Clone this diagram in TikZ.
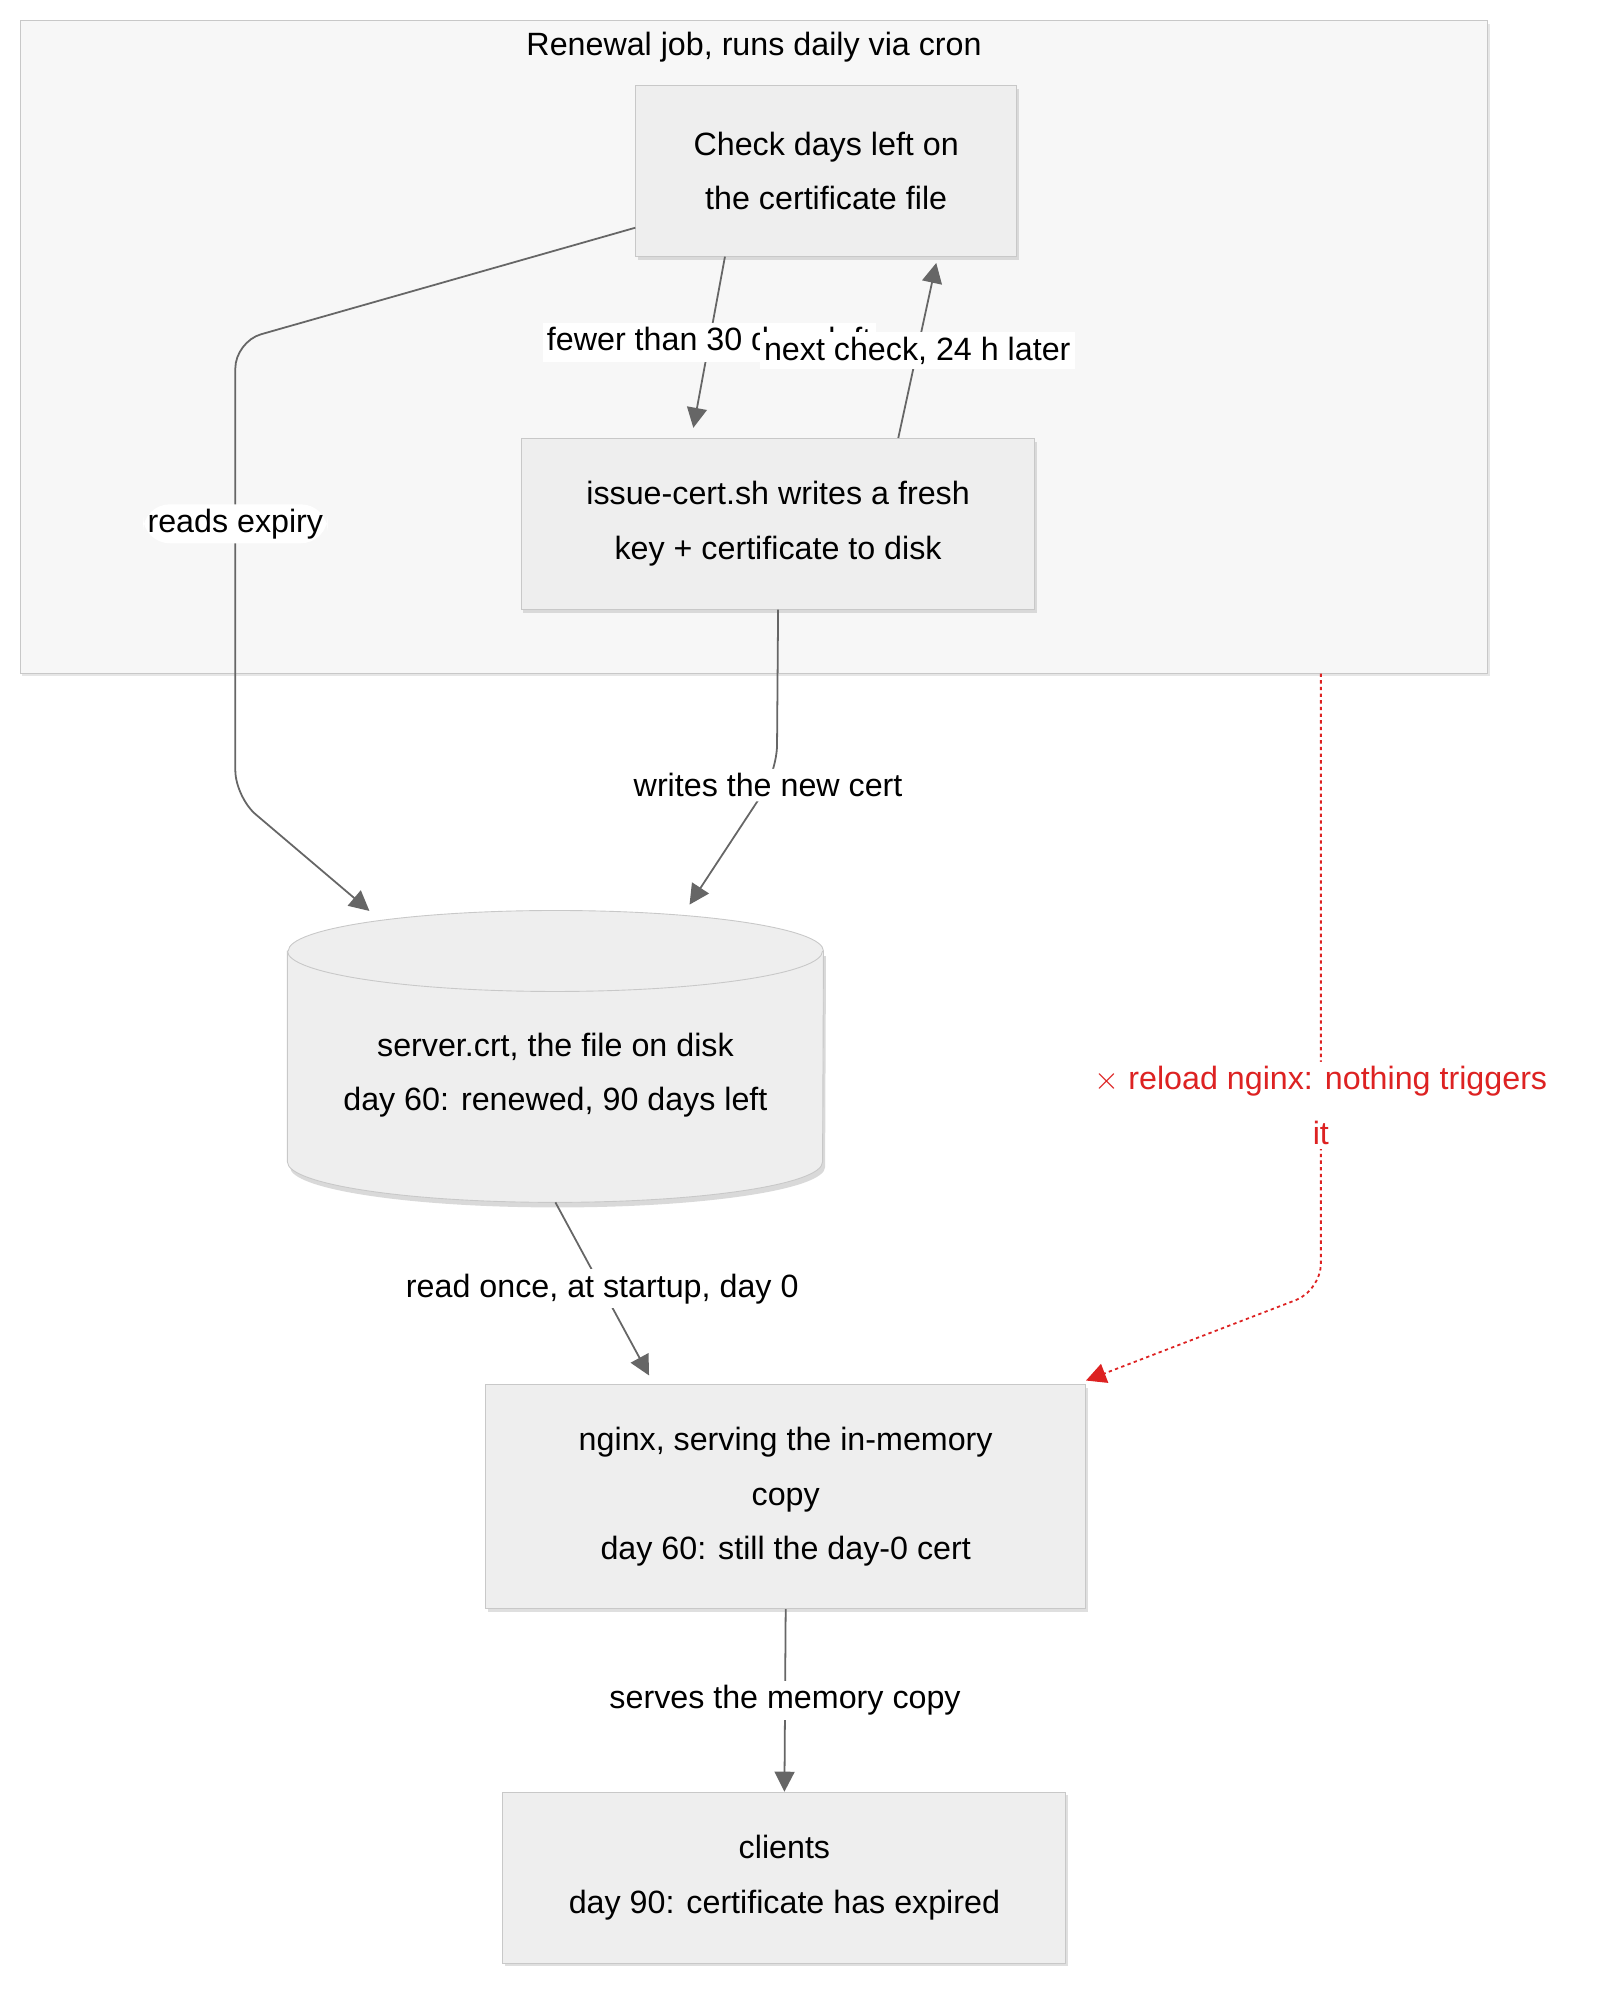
\documentclass[tikz,border=0pt]{standalone}
\usepackage{fontspec}
\setmainfont{Liberation Sans}
\usetikzlibrary{positioning,calc,arrows.meta,shadows}
\definecolor{boxfill}{HTML}{EEEEEE}
\definecolor{boxline}{HTML}{C8C8C8}
\definecolor{edgegray}{HTML}{666666}
\definecolor{alarm}{HTML}{DD2222}
\begin{document}
\begin{tikzpicture}[x=0.2mm,y=-0.2mm,font=\fontsize{14.5}{24.5}\selectfont]
		\tikzstyle{stage}=[draw=boxline, fill=boxfill, align=center, inner sep=0, drop shadow={shadow xshift=1pt,shadow yshift=-1.5pt,opacity=0.25}];
		\tikzstyle{lbl}=[fill=white, align=center, inner sep=2pt];
		\tikzstyle{flow}=[draw=edgegray, thick, -{Triangle[width=9pt,length=9pt]}];
		\tikzstyle{miss}=[draw=alarm, thick, dash pattern=on 1.5pt off 1.5pt, -{Triangle[width=9pt,length=9pt]}];

		\useasboundingbox (0,0) rectangle (1275,1580);

		% renewal group
		\node[draw=boxline, fill=white!97!black, minimum width=1160*0.2mm, minimum height=516*0.2mm, drop shadow={shadow xshift=1pt,shadow yshift=-1.5pt,opacity=0.2}] (grp) at (596,274) {};
		\node (grp_t) at (596,37) {Renewal job, runs daily via cron};

		\node[stage, minimum width=301*0.2mm, minimum height=135*0.2mm] (check) at (653,135) {Check days left on\\the certificate file};
		\node[stage, minimum width=406*0.2mm, minimum height=135*0.2mm] (issue) at (615,414) {issue-cert.sh writes a fresh\\key + certificate to disk};

		% cylinder for the file on disk
		\node[minimum width=423*0.2mm, minimum height=230*0.2mm] (disk) at (439,835) {};
		\fill[black, opacity=0.15] ($(disk.north west)+(2,36)$) -- ($(disk.south west)+(2,-28)$) arc[start angle=180,end angle=0,x radius=211.5,y radius=32] -- ($(disk.north east)+(2,36)$) -- cycle;
		\filldraw[draw=boxline, fill=boxfill] ($(disk.north west)+(0,32)$) -- ($(disk.south west)+(0,-32)$) arc[start angle=180,end angle=0,x radius=211.5,y radius=32] -- ($(disk.north east)+(0,32)$) arc[start angle=0,end angle=-180,x radius=211.5,y radius=32] -- cycle;
		\draw[boxline] ($(disk.north west)+(0,32)$) arc[start angle=180,end angle=0,x radius=211.5,y radius=32];
		\node[align=center] (disk_t) at ($(disk.center)+(0,15)$) {server.crt, the file on disk\\day 60: renewed, 90 days left};

		\node[stage, minimum width=474*0.2mm, minimum height=177*0.2mm] (nginx) at (621,1183) {nginx, serving the in-memory\\copy\\day 60: still the day-0 cert};
		\node[stage, minimum width=445*0.2mm, minimum height=135*0.2mm] (clients) at (620,1484) {clients\\day 90: certificate has expired};

		\coordinate (c_rd1) at (186,270);
		\coordinate (c_rd2) at (186,630);
		\coordinate (c_red) at (1044,1020);

		\path[flow] ($(check.south)+(-80,0)$) -- node[lbl]{fewer than 30 days left} ($(issue.north)+(-67,-8)$);
		\path[flow] ($(issue.north)+(95,0)$) -- node[lbl]{next check, 24 h later} ($(check.south)+(87,5)$);
		\path[flow, rounded corners=12pt] ($(check.west)+(0,45)$) -- (c_rd1) -- node[lbl, pos=0.4]{reads expiry} (c_rd2) -- (292,720);
		\path[flow, rounded corners=12pt] (issue.south) -- (614,610) -- node[lbl, pos=0.1]{writes the new cert} (545,715);
		\path[flow] ($(disk.south)+(0,0)$) -- node[lbl]{read once, at startup, day 0} ($(nginx.north)+(-108,-7)$);
		\path[miss, rounded corners=12pt] ($(grp.south)+(448,0)$) -- node[lbl, text=alarm, pos=0.7]{$\times$ reload nginx: nothing triggers\\it} (c_red) -- ($(nginx.north east)+(0,-3)$);
		\path[flow] (nginx.south) -- node[lbl]{serves the memory copy} (clients.north);
	\end{tikzpicture}
\end{document}
